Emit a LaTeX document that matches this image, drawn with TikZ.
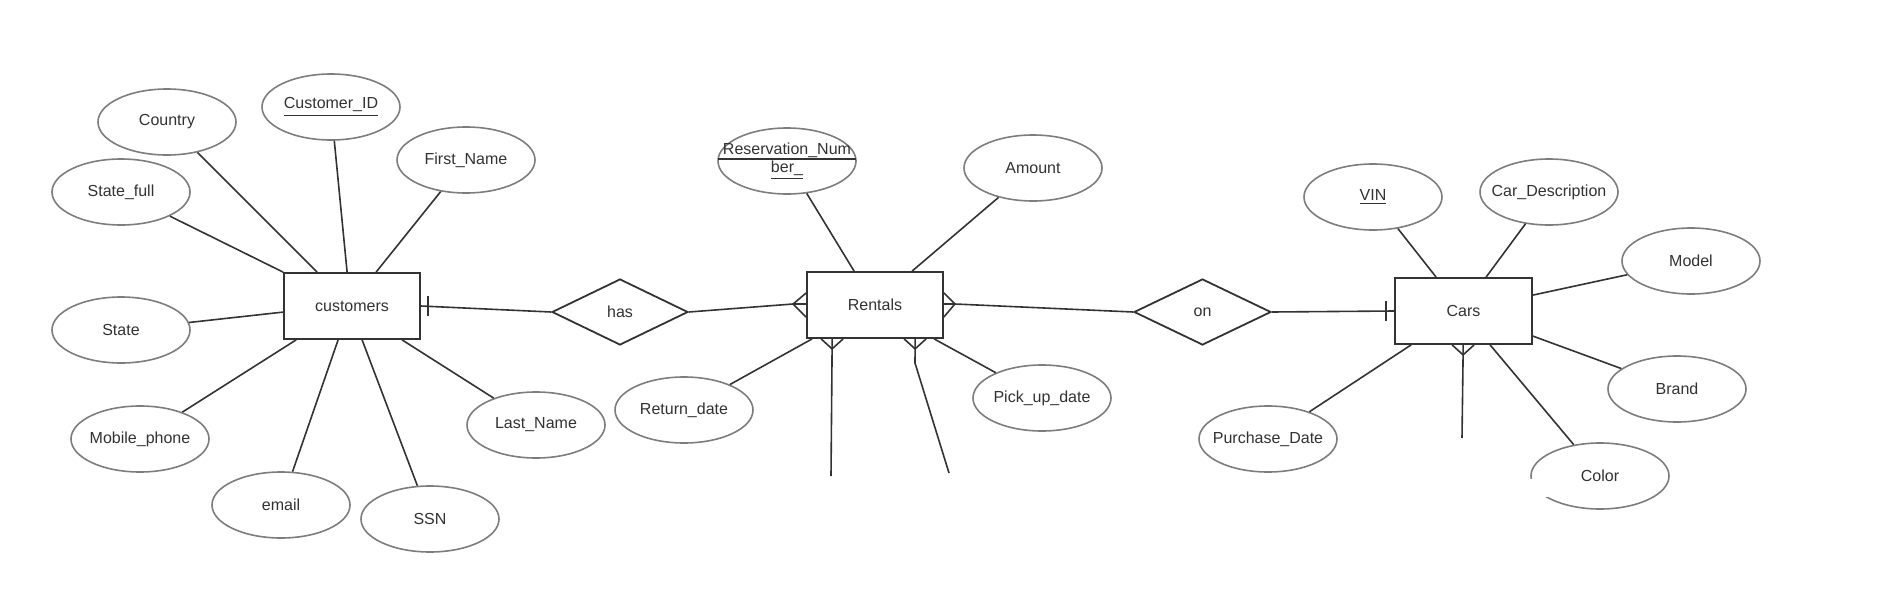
\documentclass[tikz,border=0pt]{standalone}
\usepackage{fontspec}
\setmainfont{Liberation Sans}
\usetikzlibrary{shapes.geometric,calc}
\definecolor{linec}{RGB}{51,51,51}
\definecolor{ellc}{RGB}{125,125,125}
\definecolor{txtc}{RGB}{50,50,50}
\newcommand{\zb}[1]{\makebox[0pt][c]{#1}}
\begin{document}
\begin{tikzpicture}[x=0.5pt,y=-0.5pt,
  every node/.style={font=\fontsize{8}{9}\selectfont, text=txtc},
  attr/.style={ellipse, draw=ellc, line width=0.8pt, minimum width=69pt, minimum height=33pt, inner sep=0pt},
  ent/.style={rectangle, draw=linec, line width=0.9pt, minimum width=68pt, minimum height=33pt, inner sep=0pt},
  rel/.style={diamond, draw=linec, line width=0.9pt, minimum width=68pt, minimum height=33pt, inner sep=0pt},
  conn/.style={draw=linec, line width=0.8pt},
]
\fill[white] (0,0) rectangle (1887,589);
\useasboundingbox (0,0) rectangle (1887,589);

% entities and relationships
\node[ent] (cust) at (352,306) {\zb{customers}};
\node[ent] (rent) at (875,305) {\zb{Rentals}};
\node[ent, minimum width=68.5pt] (cars) at (1463.5,311) {\zb{Cars}};
\node[rel] (has) at (620,312) {\zb{has}};
\node[rel, minimum width=68.5pt] (on) at (1202.5,312) {\zb{on}};

% customer attributes
\node[attr] (country) at (167,122) {\zb{Country}};
\node[attr] (custid) at (331,107) {\zb{\underline{Customer\_ID}}};
\node[attr] (fname) at (466,160) {\zb{First\_Name}};
\node[attr] (statefull) at (121,192) {\zb{State\_full}};
\node[attr] (state) at (121,330) {\zb{State}};
\node[attr] (mobile) at (140,439) {\zb{Mobile\_phone}};
\node[attr] (email) at (281,505) {\zb{email}};
\node[attr] (ssn) at (430,519) {\zb{SSN}};
\node[attr] (lname) at (536,425) {\zb{Last\_Name}};

% rental attributes
\node[attr] (resv) at (787,161) {\zb{\raisebox{-1pt}{\begin{tabular}{@{}c@{}}Reservation\_Num\\\underline{ber\_}\end{tabular}}}};
\draw[txtc, line width=0.6pt] ($(resv.west)+(1,-2)$) -- ($(resv.east)+(-1,-2)$);
\node[attr] (amount) at (1033,168) {\zb{Amount}};
\node[attr] (retdate) at (684,410) {\zb{Return\_date}};
\node[attr] (pickup) at (1042,398) {\zb{Pick\_up\_date}};

% car attributes
\node[attr] (vin) at (1373,197) {\zb{\underline{VIN}}};
\node[attr] (cardesc) at (1549,192) {\zb{Car\_Description}};
\node[attr] (model) at (1691,261) {\zb{Model}};
\node[attr] (brand) at (1677,389) {\zb{Brand}};
\node[attr] (color) at (1600,476) {\zb{Color}};
\fill[white] (1526,479) rectangle (1549,497);
\node[attr] (purch) at (1268,439) {\zb{Purchase\_Date}};

% customer connectors
\draw[conn] (country) -- ($(cust.north west)+(34,0)$);
\draw[conn] (statefull) -- (cust.north west);
\draw[conn] (custid) -- ($(cust.north west)+(64,0)$);
\draw[conn] (fname) -- ($(cust.north west)+(93,0)$);
\draw[conn] (state) -- ($(cust.north west)+(0,40)$);
\draw[conn] (mobile) -- ($(cust.south west)+(13,0)$);
\draw[conn] (email) -- ($(cust.south west)+(55,0)$);
\draw[conn] (ssn) -- ($(cust.south west)+(79,0)$);
\draw[conn] (lname) -- ($(cust.south west)+(119,0)$);

% customers -- has (one)
\draw[conn] (cust.east) -- (has.west);
\draw[conn] ($(cust.east)+(7,-10)$) -- ($(cust.east)+(7,10)$);

% has -- rentals (many)
\coordinate (rlt) at ($(rent.west)+(-13,-1)$);
\draw[conn] (has.east) -- (rlt) -- ($(rent.west)+(0,-1)$);
\draw[conn] ($(rent.west)+(0,-12)$) -- (rlt) -- ($(rent.west)+(0,12)$);

% rentals -- on (many)
\coordinate (rrt) at ($(rent.east)+(11,-1)$);
\draw[conn] (rrt) -- (on.west);
\draw[conn] ($(rent.east)+(0,-1)$) -- (rrt);
\draw[conn] ($(rent.east)+(0,-12)$) -- (rrt) -- ($(rent.east)+(0,12)$);

% on -- cars (one)
\draw[conn] (on.east) -- (cars.west);
\draw[conn] ($(cars.west)+(-8,-10)$) -- ($(cars.west)+(-8,10)$);

% rental attribute connectors
\draw[conn] (resv) -- ($(rent.north west)+(48,0)$);
\draw[conn] (amount) -- ($(rent.north west)+(106,0)$);
\draw[conn] (retdate) -- ($(rent.south west)+(6,0)$);
\draw[conn] (pickup) -- ($(rent.south west)+(128,0)$);

% rentals bottom many-ends
\coordinate (rb1) at ($(rent.south west)+(26,0)$);
\coordinate (rb1t) at ($(rb1)+(0,10)$);
\coordinate (rb1end) at (831,476);
\draw[conn] ($(rb1)+(-11,0)$) -- (rb1t) -- ($(rb1)+(11,0)$);
\draw[conn] (rb1) -- (rb1t) -- (rb1end);

\coordinate (rb2) at ($(rent.south west)+(109,0)$);
\coordinate (rb2t) at ($(rb2)+(0,10)$);
\coordinate (rb2bend) at (915,363);
\coordinate (rb2end) at (949,473);
\draw[conn] ($(rb2)+(-11,0)$) -- (rb2t) -- ($(rb2)+(11,0)$);
\draw[conn] (rb2) -- (rb2t) -- (rb2bend) -- (rb2end);

% car attribute connectors
\draw[conn] (vin) -- ($(cars.north west)+(42,0)$);
\draw[conn] (cardesc) -- ($(cars.north west)+(92,0)$);
\draw[conn] (model) -- ($(cars.north east)+(0,18)$);
\draw[conn] (brand) -- ($(cars.north east)+(0,59)$);
\draw[conn] (color) -- ($(cars.south west)+(96,0)$);
\draw[conn] (purch) -- ($(cars.south west)+(17,0)$);

% cars bottom many-end
\coordinate (cb) at ($(cars.south west)+(69,0)$);
\coordinate (cbt) at ($(cb)+(0,10)$);
\coordinate (cbend) at (1462,438);
\draw[conn] ($(cb)+(-11,0)$) -- (cbt) -- ($(cb)+(11,0)$);
\draw[conn] (cb) -- (cbt) -- (cbend);
\end{tikzpicture}
\end{document}
